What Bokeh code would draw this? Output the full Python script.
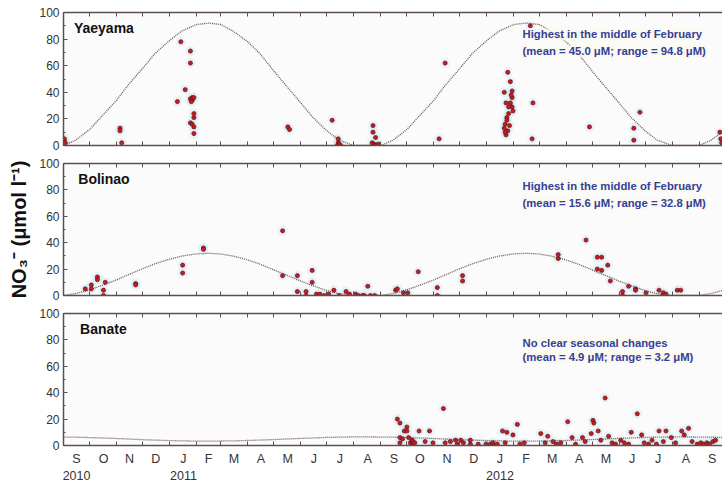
import pandas as pd
from bokeh.plotting import figure
from bokeh.models import LinearAxis, FixedTicker, Range1d, Label
from bokeh.layouts import column
from bokeh.embed import file_html
from bokeh.resources import INLINE

# ---------------- data ----------------
origin_date = "2010-09-01"
end_date = "2012-09-28"
month_letters = ["J", "F", "M", "A", "M", "J", "J", "A", "S", "O", "N", "D"]
year_labels = ["2010", "2011", "2012"]
year_label_months = ["2010-09-01", "2011-01-01", "2012-01-01"]
y_ticks = [0, 20, 40, 60, 80, 100]
y_minor_ticks = [10, 30, 50, 70, 90]

site_names = ["Yaeyama", "Bolinao", "Banate"]
site_notes = [
    ["Highest in the middle of February", "(mean = 45.0 μM; range = 94.8 μM)"],
    ["Highest in the middle of February", "(mean = 15.6 μM; range = 32.8 μM)"],
    ["No clear seasonal changes", "(mean = 4.9 μM; range = 3.2 μM)"],
]

yaeyama_dates = [
    "2010-09-02", "2010-09-02", "2010-09-03", "2010-11-05", "2010-11-05", "2010-11-07",
    "2011-01-10", "2011-01-14", "2011-01-19", "2011-01-25", "2011-01-25", "2011-01-25",
    "2011-01-25", "2011-01-27", "2011-01-27", "2011-01-26", "2011-01-27", "2011-01-29",
    "2011-01-29", "2011-01-29", "2011-01-29", "2011-01-29", "2011-05-17", "2011-05-19",
    "2011-07-07", "2011-07-14", "2011-07-14", "2011-07-13", "2011-07-15", "2011-07-17",
    "2011-08-22", "2011-08-23", "2011-08-23", "2011-08-24", "2011-08-25", "2011-08-26",
    "2011-08-27", "2011-08-29", "2011-11-07", "2011-11-14",
    "2012-01-25", "2012-01-28", "2012-01-21", "2012-01-30", "2012-01-30", "2012-01-28",
    "2012-01-30", "2012-01-31", "2012-01-26", "2012-01-23", "2012-01-24", "2012-01-24",
    "2012-01-22", "2012-01-21", "2012-01-25", "2012-01-23", "2012-01-27", "2012-01-29",
    "2012-01-26", "2012-01-22",
    "2012-02-20", "2012-02-23", "2012-02-22", "2012-04-28", "2012-06-18", "2012-06-18",
    "2012-06-25", "2012-09-25", "2012-09-26", "2012-09-27",
]
yaeyama_values = [
    5, 3, 2, 13, 11, 2,
    33, 78, 42, 71, 62, 35,
    17, 34, 36, 33, 16, 24,
    21, 14, 9, 36, 14, 12,
    19, 5, 2, 0, 1, 0,
    2, 15, 10, 1, 0, 6,
    0, 1, 5, 62,
    55, 48, 40, 41, 36, 32,
    29, 26, 29, 32, 21, 19,
    16, 13, 11, 8, 15, 38,
    24, 10,
    90, 32, 5, 14, 13, 4,
    25, 10, 5, 2,
]

bolinao_dates = [
    "2010-09-26", "2010-10-03", "2010-10-03", "2010-10-10", "2010-10-10", "2010-10-17",
    "2010-10-17", "2010-10-19", "2010-11-23", "2010-11-23", "2011-01-16", "2011-01-16",
    "2011-02-09", "2011-02-09", "2011-05-11", "2011-05-11", "2011-05-28", "2011-05-28",
    "2011-06-07", "2011-06-07", "2011-06-14", "2011-06-14", "2011-06-19", "2011-06-23",
    "2011-06-28", "2011-07-03", "2011-07-09", "2011-07-15", "2011-07-23", "2011-07-27",
    "2011-08-03", "2011-08-06", "2011-08-11", "2011-08-13", "2011-08-17", "2011-08-20",
    "2011-08-25", "2011-09-18", "2011-09-20", "2011-09-27", "2011-10-02", "2011-10-14",
    "2011-11-05", "2011-11-05", "2011-12-04", "2011-12-04", "2012-03-23", "2012-03-23",
    "2012-04-24", "2012-05-07", "2012-05-07", "2012-05-12", "2012-05-12", "2012-05-19",
    "2012-05-22", "2012-06-05", "2012-06-05", "2012-06-12", "2012-06-20", "2012-06-20",
    "2012-07-02", "2012-07-17", "2012-07-22", "2012-07-22", "2012-07-25", "2012-08-07",
    "2012-08-11",
]
bolinao_values = [
    5, 8, 5, 14, 12, 4,
    0, 10, 9, 8, 23, 17,
    36, 35, 49, 15, 15, 3,
    3, 0, 19, 10, 1, 1,
    0, 1, 4, 0, 3, 1,
    1, 0, 0, 0, 7, 0,
    0, 4, 5, 2, 2, 18,
    6, 0, 15, 11, 31, 28,
    42, 29, 20, 29, 19, 23,
    11, 0, 3, 7, 5, 4,
    2, 4, 1, 2, 1, 4,
    4,
]

banate_dates = [
    "2011-09-20", "2011-09-23", "2011-09-23", "2011-09-23", "2011-09-26", "2011-09-28",
    "2011-10-01", "2011-10-01", "2011-10-03", "2011-10-05", "2011-10-07", "2011-10-08",
    "2011-10-08", "2011-10-08", "2011-10-10", "2011-10-15", "2011-10-22", "2011-10-27",
    "2011-10-31", "2011-11-12", "2011-11-14", "2011-11-20", "2011-11-26", "2011-11-28",
    "2011-12-02", "2011-12-05", "2011-12-13", "2011-12-13", "2011-12-22", "2011-12-31",
    "2012-01-05", "2012-01-08", "2012-01-08", "2012-01-13", "2012-01-19", "2012-01-22",
    "2012-01-24", "2012-01-31", "2012-02-05", "2012-02-08", "2012-02-13", "2012-03-03",
    "2012-03-08", "2012-03-11", "2012-03-17", "2012-03-21", "2012-03-26", "2012-04-03",
    "2012-04-08", "2012-04-12", "2012-04-20", "2012-04-23", "2012-04-30", "2012-05-02",
    "2012-05-03", "2012-05-08", "2012-05-11", "2012-05-16", "2012-05-20", "2012-05-24",
    "2012-05-28", "2012-06-03", "2012-06-07", "2012-06-12", "2012-06-15", "2012-06-22",
    "2012-06-27", "2012-06-30", "2012-07-05", "2012-07-09", "2012-07-14", "2012-07-17",
    "2012-07-22", "2012-07-25", "2012-07-31", "2012-08-05", "2012-08-12", "2012-08-15",
    "2012-08-20", "2012-08-24", "2012-08-30", "2012-09-03", "2012-09-06", "2012-09-10",
    "2012-09-13", "2012-09-17", "2012-09-20",
]
banate_values = [
    20, 17, 6, 2, 5, 11,
    14, 11, 6, 2, 4, 2,
    1, 3, 2, 11, 3, 11,
    2, 28, 2, 3, 4, 1,
    4, 2, 1, 4, 1, 1,
    1, 1, 2, 1, 11, 2,
    10, 8, 16, 1, 2, 9,
    2, 7, 3, 1, 2, 18,
    6, 1, 6, 3, 9, 19,
    17, 11, 4, 36, 7, 2,
    1, 4, 2, 1, 10, 24,
    8, 2, 1, 4, 1, 11,
    3, 11, 6, 2, 11, 8,
    13, 3, 1, 2, 1, 2,
    1, 3, 4,
]

# seasonal model curves read at the 1st and 15th of each month
curve_dates = [
    "2010-09-01", "2010-09-15", "2010-10-01", "2010-10-15", "2010-11-01", "2010-11-15",
    "2010-12-01", "2010-12-15", "2011-01-01", "2011-01-15", "2011-02-01", "2011-02-15",
    "2011-03-01", "2011-03-15", "2011-04-01", "2011-04-15", "2011-05-01", "2011-05-15",
    "2011-06-01", "2011-06-15", "2011-07-01", "2011-07-15", "2011-08-01", "2011-08-15",
    "2011-09-01", "2011-09-15", "2011-10-01", "2011-10-15", "2011-11-01", "2011-11-15",
    "2011-12-01", "2011-12-15", "2012-01-01", "2012-01-15", "2012-02-01", "2012-02-15",
    "2012-03-01", "2012-03-15", "2012-04-01", "2012-04-15", "2012-05-01", "2012-05-15",
    "2012-06-01", "2012-06-15", "2012-07-01", "2012-07-15", "2012-08-01", "2012-08-15",
    "2012-09-01", "2012-09-15", "2012-10-01",
]
yaeyama_curve = [
    0, 4, 12, 22, 34, 46, 58, 69, 79, 86, 91, 92,
    91, 86, 78, 69, 56, 45, 32, 21, 11, 4, 0, 0,
    0, 4, 12, 22, 34, 46, 58, 69, 79, 86, 91, 92,
    91, 86, 78, 69, 56, 45, 32, 21, 11, 4, 0, 0,
    0, 4, 12,
]
bolinao_curve = [
    0, 1.5, 4.3, 7.6, 11.8, 15.9, 20.3, 24.0, 27.5, 29.9, 31.5, 32.0,
    31.4, 29.9, 26.9, 23.8, 19.4, 15.6, 10.9, 7.4, 3.7, 1.4, 0, 0,
    0, 1.5, 4.3, 7.6, 11.8, 15.9, 20.3, 24.0, 27.5, 29.9, 31.5, 32.0,
    31.4, 29.9, 26.9, 23.8, 19.4, 15.6, 10.9, 7.4, 3.7, 1.4, 0, 0,
    0, 1.5, 4.3,
]
banate_curve = [
    6.4, 6.3, 6.0, 5.7, 5.3, 4.9, 4.4, 4.1, 3.7, 3.5, 3.3, 3.3,
    3.4, 3.5, 3.8, 4.1, 4.5, 4.9, 5.4, 5.7, 6.1, 6.3, 6.5, 6.5,
    6.4, 6.3, 6.0, 5.7, 5.3, 4.9, 4.4, 4.1, 3.7, 3.5, 3.3, 3.3,
    3.4, 3.5, 3.8, 4.1, 4.5, 4.9, 5.4, 5.7, 6.1, 6.3, 6.5, 6.5,
    6.4, 6.3, 6.0,
]

# ---------------- helpers ----------------
ORIGIN = pd.Timestamp(origin_date)


def to_days(dates):
    return [float((pd.Timestamp(d) - ORIGIN) / pd.Timedelta(days=1)) for d in dates]


X_END = to_days([end_date])[0]
month_starts = pd.date_range(origin_date, "2012-10-01", freq="MS")
month_tick_days = to_days(month_starts)
mid_days = [round((a + b) / 2) for a, b in zip(month_tick_days[:-1], month_tick_days[1:])]
mid_labels = {m: month_letters[d.month - 1] for m, d in zip(mid_days, month_starts[:-1])}
year_days = [mid_days[list(month_starts).index(pd.Timestamp(d))] for d in year_label_months]
year_overrides = {d: lab for d, lab in zip(year_days, year_labels)}

AX = "#5b504c"
FONT = "Liberation Sans"
BLUE = "#34409c"


def make_fig(height, top, bottom):
    p = figure(width=722, height=height, x_range=Range1d(0, X_END), y_range=Range1d(0, 100),
               output_backend="svg", toolbar_location=None,
               min_border_left=63, min_border_right=0, min_border_top=top,
               min_border_bottom=bottom, x_axis_location=None, y_axis_location=None)
    p.background_fill_color = "#fbfbfb"
    p.border_fill_color = "white"
    p.outline_line_color = None
    p.xgrid.visible = False
    p.ygrid.visible = False
    yax = LinearAxis(ticker=FixedTicker(ticks=y_ticks, minor_ticks=y_minor_ticks))
    yax.axis_line_color = AX
    yax.axis_line_width = 1.5
    yax.major_tick_line_color = AX
    yax.minor_tick_line_color = AX
    yax.major_tick_in = 4
    yax.major_tick_out = 0
    yax.minor_tick_in = 2
    yax.minor_tick_out = 0
    yax.major_label_standoff = 4
    yax.major_label_text_font = FONT
    yax.major_label_text_font_size = "12px"
    yax.major_label_text_color = "#333333"
    p.add_layout(yax, "left")
    top_ax = LinearAxis(ticker=FixedTicker(ticks=[], minor_ticks=month_tick_days))
    top_ax.axis_line_color = AX
    top_ax.axis_line_width = 1.5
    top_ax.minor_tick_line_color = AX
    top_ax.minor_tick_in = 4
    top_ax.minor_tick_out = 0
    top_ax.major_label_text_font_size = "0px"
    p.add_layout(top_ax, "above")
    return p, yax


def bottom_plain(p):
    ax = LinearAxis(ticker=FixedTicker(ticks=[], minor_ticks=month_tick_days))
    ax.axis_line_color = AX
    ax.axis_line_width = 1.5
    ax.minor_tick_line_color = AX
    ax.minor_tick_in = 4
    ax.minor_tick_out = 0
    ax.major_label_text_font_size = "0px"
    p.add_layout(ax, "below")


def draw_site(p, dates, values, curve, name, notes, name_dx, note_ys):
    xs = to_days(dates)
    p.scatter(xs, values, size=10, fill_color="#cfe8f4", fill_alpha=0.45, line_color=None)
    p.line(to_days(curve_dates), curve, line_color="#6b5550", line_width=1.3, line_dash="1 1")
    p.scatter(xs, values, size=4.2, fill_color="#c01e26", line_color="#6e1212", line_width=0.7)
    p.add_layout(Label(x=name_dx, y=88.5, text=name, text_font=FONT, text_font_style="bold",
                       text_font_size="14px", text_color="#111111", text_baseline="middle"))
    nx = to_days(["2012-02-11"])[0]
    for line, yy in zip(notes, note_ys):
        p.add_layout(Label(x=nx, y=yy, text=line, text_font=FONT,
                           text_font_style="bold", text_font_size="11.3px", text_color=BLUE,
                           text_baseline="middle", background_fill_color="#fbfaee",
                           background_fill_alpha=0.8))


p1, _ = make_fig(154, 12, 9)
bottom_plain(p1)
draw_site(p1, yaeyama_dates, yaeyama_values, yaeyama_curve, site_names[0], site_notes[0], 12,
          [83.5, 70.7])

p2, yax2 = make_fig(150, 9, 9)
bottom_plain(p2)
yax2.axis_label = "NO₃⁻ (μmol l⁻¹)"
yax2.axis_label_text_font = FONT
yax2.axis_label_text_font_style = "bold"
yax2.axis_label_text_font_size = "20px"
yax2.axis_label_text_color = "#111111"
yax2.axis_label_standoff = 6
draw_site(p2, bolinao_dates, bolinao_values, bolinao_curve, site_names[1], site_notes[1], 17,
          [83.3, 69.7])

p3, _ = make_fig(179, 9, 38)
bax = LinearAxis(ticker=FixedTicker(ticks=mid_days, minor_ticks=month_tick_days))
bax.axis_line_color = AX
bax.axis_line_width = 1.5
bax.minor_tick_line_color = AX
bax.minor_tick_in = 4
bax.minor_tick_out = 0
bax.major_tick_in = 0
bax.major_tick_out = 0
bax.major_label_overrides = mid_labels
bax.major_label_standoff = 6
bax.major_label_text_font = FONT
bax.major_label_text_font_size = "12.5px"
bax.major_label_text_color = "#333333"
p3.add_layout(bax, "below")
yr = LinearAxis(ticker=FixedTicker(ticks=year_days, minor_ticks=[]))
yr.axis_line_color = None
yr.major_tick_line_color = None
yr.major_tick_in = 0
yr.major_tick_out = 0
yr.major_label_overrides = year_overrides
yr.major_label_standoff = 2
yr.major_label_text_font = FONT
yr.major_label_text_font_size = "12.5px"
yr.major_label_text_color = "#333333"
p3.add_layout(yr, "below")
draw_site(p3, banate_dates, banate_values, banate_curve, site_names[2], site_notes[2], 19,
          [78.0, 66.7])

layout = column(p1, p2, p3, spacing=0)
open("out.html", "w").write(file_html(layout, INLINE))
